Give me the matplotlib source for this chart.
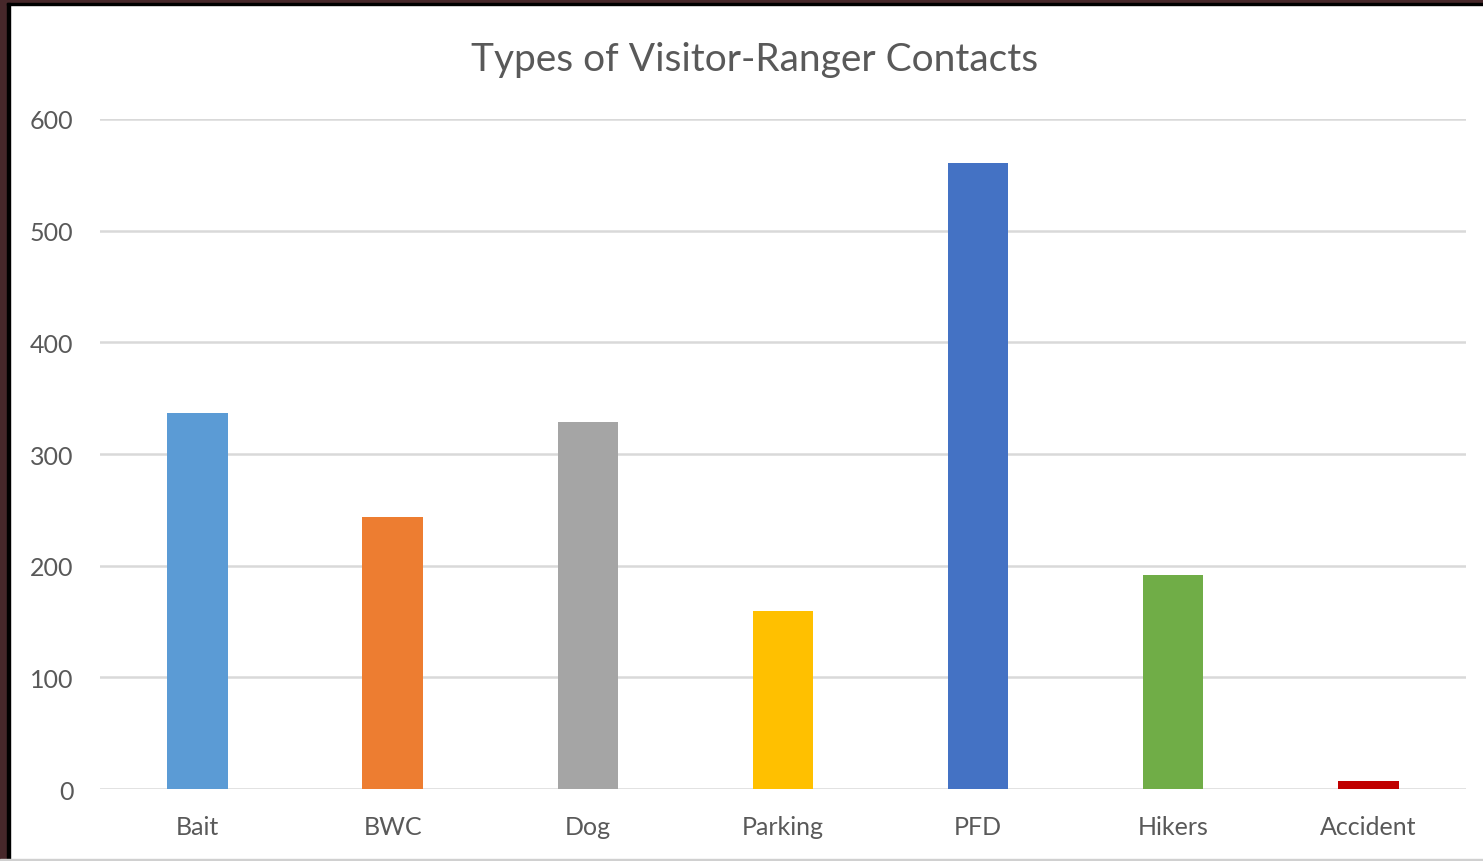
import matplotlib.pyplot as plt
from matplotlib.patches import Rectangle

categories = ["Bait", "BWC", "Dog", "Parking", "PFD", "Hikers", "Accident"]
values = [337, 244, 329, 159, 561, 192, 7]
colors = ["#5b9bd5", "#ed7d31", "#a5a5a5", "#ffc000", "#4472c4", "#70ad47", "#c00000"]
yticks = [0, 100, 200, 300, 400, 500, 600]

plt.rcParams['font.family'] = ['Lato', 'DejaVu Sans']

fig = plt.figure(figsize=(14.83, 8.62), dpi=100)
ax = fig.add_axes([0.0674, 0.0835, 0.9211, 0.7773])

ax.bar(range(len(categories)), values, width=0.31, color=colors, zorder=3)
ax.set_xlim(-0.5, len(categories) - 0.5)
ax.set_ylim(0, 600)
ax.set_yticks(yticks)
ax.set_xticks(range(len(categories)))
ax.set_xticklabels(categories)
ax.tick_params(length=0, labelsize=18, colors="#595959")
ax.tick_params(axis='y', pad=19)
ax.tick_params(axis='x', pad=18.5)
ax.grid(axis='y', color="#d9d9d9", linewidth=1.8, zorder=0)
for s in ax.spines.values():
    s.set_visible(False)

fig.text(0.509, 0.930, "Types of Visitor-Ranger Contacts", ha='center', va='center',
         fontsize=28, color="#595959")

# dark frame on left and top edges
fig.patches.append(Rectangle((0, 0), 7 / 1483, 1, transform=fig.transFigure,
                             color="#46272a", zorder=10))
fig.patches.append(Rectangle((0, 1 - 4 / 862), 1, 4 / 862, transform=fig.transFigure,
                             color="#46272a", zorder=10))
fig.patches.append(Rectangle((7 / 1483, 0), 3 / 1483, 1 - 4 / 862, transform=fig.transFigure,
                             color="#000000", zorder=10))
fig.patches.append(Rectangle((7 / 1483, 1 - 6 / 862), 1, 2 / 862, transform=fig.transFigure,
                             color="#000000", zorder=10))
fig.patches.append(Rectangle((0, 0), 1, 2 / 862, transform=fig.transFigure,
                             color="#d0d0d0", zorder=10))

fig.savefig("out.png", dpi=100)
